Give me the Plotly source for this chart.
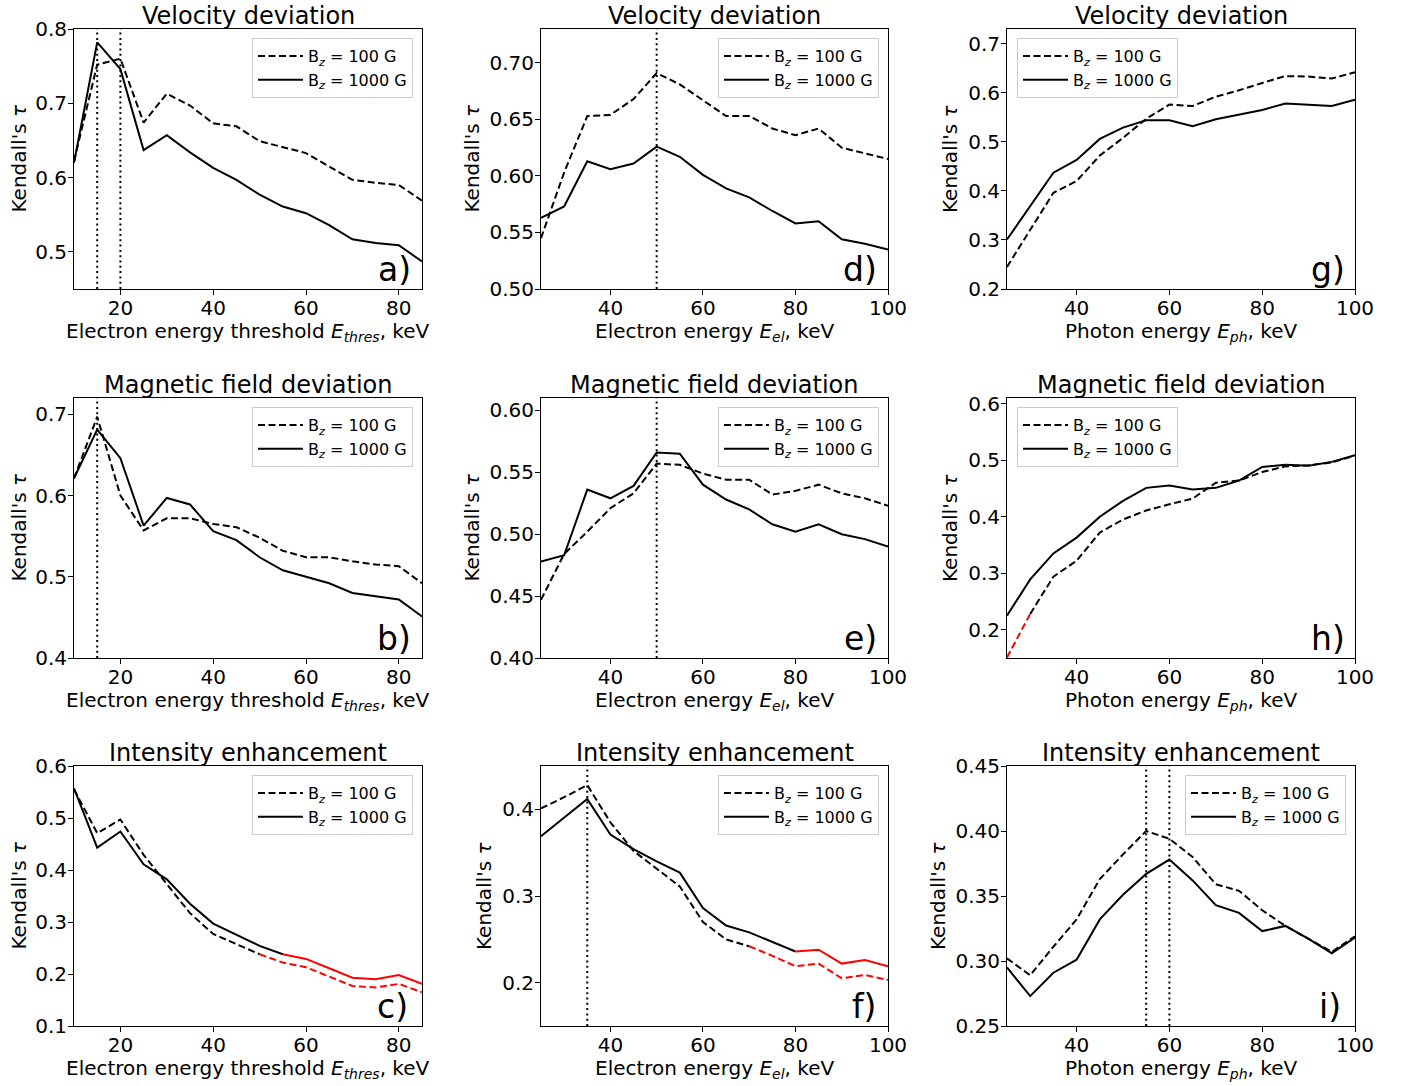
import plotly.graph_objects as go

W, H = 1403, 1086
FONT = "DejaVu Sans"

# ---------------- data ----------------
x_thres = [10, 15, 20, 25, 30, 35, 40, 45, 50, 55, 60, 65, 70, 75, 80, 85]
x_energy = [25, 30, 35, 40, 45, 50, 55, 60, 65, 70, 75, 80, 85, 90, 95, 100]

a_100 = [0.622, 0.752, 0.760, 0.674, 0.713, 0.697, 0.673, 0.669, 0.649, 0.641, 0.633, 0.615, 0.597, 0.593, 0.590, 0.569]
a_1000 = [0.620, 0.782, 0.746, 0.637, 0.657, 0.634, 0.613, 0.597, 0.577, 0.561, 0.552, 0.536, 0.517, 0.512, 0.509, 0.487]

b_100 = [0.621, 0.697, 0.600, 0.557, 0.572, 0.572, 0.565, 0.561, 0.548, 0.532, 0.524, 0.524, 0.519, 0.515, 0.513, 0.492]
b_1000 = [0.621, 0.681, 0.646, 0.563, 0.597, 0.589, 0.556, 0.545, 0.524, 0.508, 0.500, 0.492, 0.480, 0.476, 0.472, 0.451]

c_100 = [0.555, 0.471, 0.497, 0.429, 0.373, 0.317, 0.277, 0.257, 0.238, 0.222, 0.213, 0.195, 0.177, 0.174, 0.181, 0.165]
c_1000 = [0.557, 0.443, 0.474, 0.411, 0.382, 0.335, 0.297, 0.275, 0.254, 0.238, 0.229, 0.211, 0.193, 0.190, 0.198, 0.181]

d_100 = [0.545, 0.603, 0.653, 0.654, 0.668, 0.691, 0.681, 0.667, 0.653, 0.653, 0.642, 0.636, 0.642, 0.625, 0.620, 0.615]
d_1000 = [0.563, 0.573, 0.613, 0.606, 0.611, 0.626, 0.617, 0.601, 0.589, 0.581, 0.569, 0.558, 0.560, 0.544, 0.540, 0.535]

e_100 = [0.447, 0.484, 0.502, 0.521, 0.533, 0.557, 0.556, 0.549, 0.544, 0.544, 0.532, 0.535, 0.540, 0.533, 0.529, 0.523]
e_1000 = [0.478, 0.483, 0.536, 0.529, 0.539, 0.566, 0.565, 0.540, 0.528, 0.520, 0.508, 0.502, 0.508, 0.500, 0.496, 0.490]

f_100 = [0.401, 0.414, 0.428, 0.385, 0.352, 0.331, 0.311, 0.270, 0.250, 0.242, 0.231, 0.219, 0.222, 0.205, 0.209, 0.203]
f_1000 = [0.369, 0.390, 0.412, 0.371, 0.354, 0.340, 0.327, 0.286, 0.266, 0.258, 0.247, 0.236, 0.238, 0.222, 0.226, 0.219]

g_100 = [0.245, 0.321, 0.396, 0.420, 0.472, 0.508, 0.547, 0.576, 0.573, 0.592, 0.605, 0.620, 0.634, 0.633, 0.629, 0.642]
g_1000 = [0.301, 0.370, 0.437, 0.463, 0.506, 0.529, 0.544, 0.544, 0.532, 0.546, 0.556, 0.565, 0.578, 0.576, 0.573, 0.586]

h_100 = [0.151, 0.228, 0.294, 0.322, 0.372, 0.395, 0.411, 0.422, 0.432, 0.460, 0.464, 0.479, 0.489, 0.491, 0.496, 0.508]
h_1000 = [0.225, 0.289, 0.335, 0.363, 0.400, 0.428, 0.451, 0.455, 0.448, 0.451, 0.464, 0.488, 0.492, 0.490, 0.497, 0.509]

i_100 = [0.302, 0.289, 0.311, 0.332, 0.363, 0.382, 0.400, 0.394, 0.380, 0.359, 0.354, 0.339, 0.327, 0.317, 0.307, 0.319]
i_1000 = [0.295, 0.273, 0.291, 0.301, 0.332, 0.351, 0.367, 0.378, 0.362, 0.343, 0.337, 0.323, 0.327, 0.317, 0.306, 0.318]

# vertical dotted marker positions (keV)
vlines_a = [15, 20]
vlines_b = [15]
vlines_d = [50]
vlines_e = [50]
vlines_f = [35]
vlines_i = [55, 60]

# x-ranges drawn in red [from, to] (keV)
red_c_100 = [50, 85]
red_c_1000 = [55, 85]
red_f_100 = [70, 100]
red_f_1000 = [80, 100]
red_h_100 = [25, 30]

series_names = ["B<sub><i>z</i></sub> = 100 G", "B<sub><i>z</i></sub> = 1000 G"]
titles = ["Velocity deviation", "Magnetic field deviation", "Intensity enhancement"]
xtitles = ["Electron energy threshold <i>E</i><sub><i>thres</i></sub>, keV",
           "Electron energy <i>E</i><sub><i>el</i></sub>, keV",
           "Photon energy <i>E</i><sub><i>ph</i></sub>, keV"]
ytitle = "Kendall's <i>τ</i>"

# ---------------- layout geometry (pixels) ----------------
col_px = [(74, 422), (541, 888), (1007, 1355)]
row_px = [(29, 289), (398, 658), (766, 1026)]

panels = [
    dict(L="a", r=0, c=0, x=x_thres, y=(a_100, a_1000), red=(None, None), vl=vlines_a,
         xr=[10, 85], yr=[0.45, 0.8], dt=0.1, fmt=".1f", ytx=18.5, leg=("right", 413)),
    dict(L="b", r=1, c=0, x=x_thres, y=(b_100, b_1000), red=(None, None), vl=vlines_b,
         xr=[10, 85], yr=[0.4, 0.72], dt=0.1, fmt=".1f", ytx=18.5, leg=("right", 413)),
    dict(L="c", r=2, c=0, x=x_thres, y=(c_100, c_1000), red=(red_c_100, red_c_1000), vl=[],
         xr=[10, 85], yr=[0.1, 0.6], dt=0.1, fmt=".1f", ytx=18.5, leg=("right", 413)),
    dict(L="d", r=0, c=1, x=x_energy, y=(d_100, d_1000), red=(None, None), vl=vlines_d,
         xr=[25, 100], yr=[0.5, 0.73], dt=0.05, fmt=".2f", ytx=471.5, leg=("right", 879)),
    dict(L="e", r=1, c=1, x=x_energy, y=(e_100, e_1000), red=(None, None), vl=vlines_e,
         xr=[25, 100], yr=[0.4, 0.61], dt=0.05, fmt=".2f", ytx=471.5, leg=("right", 879)),
    dict(L="f", r=2, c=1, x=x_energy, y=(f_100, f_1000), red=(red_f_100, red_f_1000), vl=vlines_f,
         xr=[25, 100], yr=[0.15, 0.45], dt=0.1, fmt=".1f", ytx=484, leg=("right", 879)),
    dict(L="g", r=0, c=2, x=x_energy, y=(g_100, g_1000), red=(None, None), vl=[],
         xr=[25, 100], yr=[0.2, 0.73], dt=0.1, fmt=".1f", ytx=950, leg=("left", 1017)),
    dict(L="h", r=1, c=2, x=x_energy, y=(h_100, h_1000), red=(red_h_100, None), vl=[],
         xr=[25, 100], yr=[0.15, 0.61], dt=0.1, fmt=".1f", ytx=950, leg=("left", 1017)),
    dict(L="i", r=2, c=2, x=x_energy, y=(i_100, i_1000), red=(None, None), vl=vlines_i,
         xr=[25, 100], yr=[0.25, 0.45], dt=0.05, fmt=".2f", ytx=938, leg=("right", 1346)),
]
letter_right = {"a": 413, "b": 413, "c": 410, "d": 879, "e": 879, "f": 879, "g": 1347, "h": 1347, "i": 1343}
legend_top = [38, 407, 775]

DASHES = ["7px,3.5px", "solid"]

fig = go.Figure()
layout = dict(width=W, height=H, margin=dict(l=0, r=0, t=0, b=0),
              paper_bgcolor="white", plot_bgcolor="white", template="none",
              font=dict(family=FONT, color="black"), annotations=[], shapes=[])

for k, p in enumerate(panels):
    n = k + 1
    xk = "x" if n == 1 else f"x{n}"
    yk = "y" if n == 1 else f"y{n}"
    lk = "legend" if n == 1 else f"legend{n}"
    x0, x1 = col_px[p["c"]]
    y0, y1 = row_px[p["r"]]
    xs = p["x"]
    for si, ys in enumerate(p["y"]):
        rr = p["red"][si]
        flags = []
        for j in range(len(xs) - 1):
            flags.append(rr is not None and rr[0] <= xs[j] and xs[j + 1] <= rr[1])
        runs = []
        s = 0
        for j in range(1, len(flags) + 1):
            if j == len(flags) or flags[j] != flags[s]:
                runs.append((s, j, flags[s]))
                s = j
        shown = False
        for (s0, e0, red) in runs:
            show = (not red) and (not shown)
            if show:
                shown = True
            fig.add_trace(go.Scatter(
                x=xs[s0:e0 + 1], y=ys[s0:e0 + 1], mode="lines",
                line=dict(color="#ff0000" if red else "black", width=2, dash=DASHES[si]),
                xaxis=xk, yaxis=yk, name=series_names[si], legend=lk,
                showlegend=show, legendrank=si + 1, hoverinfo="skip"))

    axcommon = dict(ticks="outside", ticklen=5, tickwidth=1, tickcolor="black",
                    showline=True, linecolor="black", linewidth=1, mirror=True,
                    showgrid=False, zeroline=False, automargin=False,
                    tickfont=dict(family=FONT, size=20, color="black"))
    layout["xaxis" if n == 1 else f"xaxis{n}"] = dict(
        domain=[x0 / W, x1 / W], range=p["xr"], anchor=yk,
        tickmode="linear", tick0=0, dtick=20, ticklabelstandoff=-4, **axcommon)
    layout["yaxis" if n == 1 else f"yaxis{n}"] = dict(
        domain=[1 - y1 / H, 1 - y0 / H], range=p["yr"], anchor=xk,
        tickmode="linear", tick0=0, dtick=p["dt"], tickformat=p["fmt"],
        ticklabelstandoff=-3, **axcommon)

    side, lx = p["leg"]
    layout[lk] = dict(x=lx / W, y=1 - legend_top[p["r"]] / H, xref="paper", yref="paper",
                      xanchor=side, yanchor="top", bgcolor="rgba(255,255,255,0.8)",
                      bordercolor="#cccccc", borderwidth=1, itemwidth=45,
                      font=dict(family=FONT, size=16, color="black"))

    for v in p["vl"]:
        layout["shapes"].append(dict(type="line", xref=xk, yref=f"{yk} domain",
                                     x0=v, x1=v, y0=0, y1=1,
                                     line=dict(color="black", width=2, dash="2px,3.3px")))

    cx = (x0 + x1) / 2 / W
    anns = layout["annotations"]
    anns.append(dict(text=titles[p["r"]], x=cx, y=1 - y0 / H, xref="paper", yref="paper",
                     xanchor="center", yanchor="bottom", yshift=-3, showarrow=False,
                     font=dict(family=FONT, size=24, color="black")))
    anns.append(dict(text=xtitles[p["c"]], x=cx, y=1 - y1 / H, xref="paper", yref="paper",
                     xanchor="center", yanchor="top", yshift=-28, showarrow=False,
                     font=dict(family=FONT, size=20, color="black")))
    anns.append(dict(text=ytitle, x=p["ytx"] / W, y=1 - (y0 + y1) / 2 / H, xref="paper", yref="paper",
                     xanchor="center", yanchor="middle", textangle=-90, showarrow=False,
                     font=dict(family=FONT, size=20, color="black")))
    anns.append(dict(text=p["L"] + ")", x=letter_right[p["L"]] / W, y=1 - y1 / H, xref="paper", yref="paper",
                     xanchor="right", yanchor="bottom", yshift=-2, showarrow=False,
                     font=dict(family=FONT, size=33, color="black")))

fig.update_layout(**layout)
fig.write_html("out.html", config={"displayModeBar": False},
               post_script="document.body.style.margin='0px';document.body.style.overflow='hidden';")
